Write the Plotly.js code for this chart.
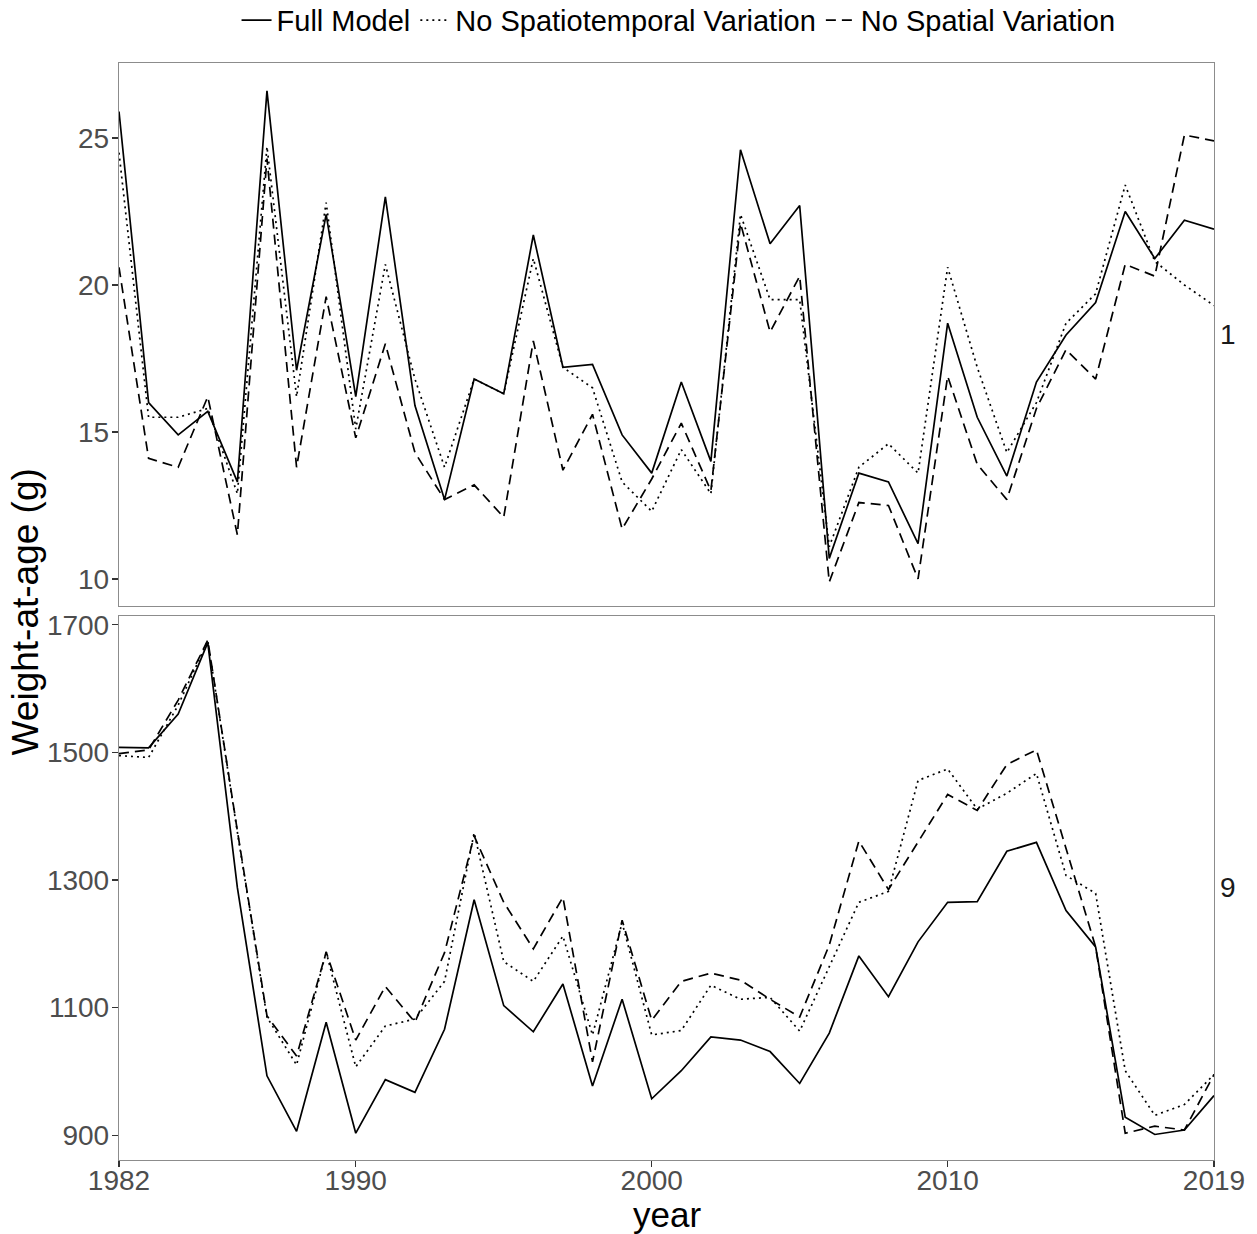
<!DOCTYPE html>
<html>
<head>
<meta charset="utf-8">
<script src="https://cdn.plot.ly/plotly-3.0.1.min.js"></script>
<style>html,body{margin:0;padding:0;background:#fff;}#chart{width:1257px;height:1234px;}</style>
</head>
<body>
<div id="chart"></div>
<script>
const years = [1982,1983,1984,1985,1986,1987,1988,1989,1990,1991,1992,1993,1994,1995,1996,1997,1998,1999,2000,2001,2002,2003,2004,2005,2006,2007,2008,2009,2010,2011,2012,2013,2014,2015,2016,2017,2018,2019];

// Age 1
const full1 = [25.9,16.0,14.9,15.7,13.3,26.6,17.1,22.4,16.2,23.0,15.9,12.7,16.8,16.3,21.7,17.2,17.3,14.9,13.6,16.7,14.0,24.6,21.4,22.7,10.7,13.6,13.3,11.2,18.7,15.5,13.5,16.7,18.3,19.4,22.5,20.9,22.2,21.9];
const noST1 = [24.5,15.5,15.5,15.8,12.9,24.7,16.2,22.8,15.1,20.7,16.8,13.8,16.8,16.3,20.9,17.2,16.5,13.3,12.3,14.4,12.9,22.4,19.5,19.5,11.1,13.8,14.6,13.6,20.6,17.2,14.3,16.0,18.7,19.7,23.4,20.8,20.0,19.3];
const noSp1 = [20.6,14.1,13.8,16.2,11.5,24.3,13.8,19.6,14.8,18.0,14.3,12.7,13.2,12.1,18.1,13.7,15.6,11.7,13.4,15.3,13.0,22.1,18.4,20.3,9.9,12.6,12.5,10.0,16.9,13.9,12.7,15.8,17.8,16.8,20.7,20.3,25.1,24.9];

// Age 9
const full9 = [1508,1507,1560,1672,1288,993,906,1077,903,987,967,1066,1269,1103,1062,1137,977,1113,957,1001,1054,1049,1031,981,1060,1181,1117,1203,1265,1266,1345,1359,1252,1195,928,901,908,962];
const noST9 = [1495,1492,1574,1675,1375,1085,1010,1187,1007,1071,1082,1141,1374,1172,1141,1212,1057,1233,1057,1064,1135,1113,1116,1063,1164,1265,1282,1456,1474,1411,1436,1467,1307,1279,1001,931,948,995];
const noSp9 = [1498,1504,1582,1676,1377,1087,1024,1187,1049,1133,1077,1186,1369,1265,1192,1273,1015,1237,1080,1141,1154,1143,1113,1085,1198,1361,1285,1360,1434,1409,1481,1504,1349,1195,903,914,908,995];

const seriesNames = ['Full Model','No Spatiotemporal Variation','No Spatial Variation'];
const facetLabels = ['1','9'];
const xTicks = [1982,1990,2000,2010,2019];

const dashes = ['solid','2px,4px','10px,6px'];
const lw = 1.7;
function tr(y, i, xa, ya, showleg){
  return {x: years, y: y, type:'scatter', mode:'lines', name: seriesNames[i],
    xaxis: xa, yaxis: ya, showlegend: showleg, legendgroup: 'g'+i,
    line:{color:'#000000', width:lw, dash:dashes[i]}, hoverinfo:'skip'};
}
const data = [
  tr(full1,0,'x2','y',true), tr(noST1,1,'x2','y',true), tr(noSp1,2,'x2','y',true),
  tr(full9,0,'x','y2',false), tr(noST9,1,'x','y2',false), tr(noSp9,2,'x','y2',false)
];

const FF = 'Liberation Sans, Arial, sans-serif';
const tickFont = {family:FF, size:28, color:'#4d4d4d'};
const axBase = {showgrid:false, zeroline:false, showline:true, linecolor:'#8c8c8c', linewidth:1.2, mirror:true,
  ticks:'outside', ticklen:6, tickcolor:'#333333', tickwidth:1.2, tickfont:tickFont, automargin:false};

const layout = {
  width:1257, height:1234,
  margin:{l:119, r:43, t:63, b:74, autoexpand:false},
  paper_bgcolor:'#ffffff', plot_bgcolor:'#ffffff',
  font:{family:FF, color:'#000'},
  showlegend:true,
  legend:{orientation:'h', x:0.511, xanchor:'center', y:1.039, yanchor:'middle',
    font:{family:FF, size:29, color:'#000'}, bgcolor:'rgba(0,0,0,0)', itemwidth:30},
  xaxis: Object.assign({}, axBase, {range:[1982,2019], tickvals:xTicks, ticktext:xTicks.map(String), anchor:'y2', domain:[0,1],
    ticklabelstandoff:-11}),
  xaxis2: Object.assign({}, axBase, {range:[1982,2019], matches:'x', anchor:'y', domain:[0,1], showticklabels:false, ticks:''}),
  yaxis: Object.assign({}, axBase, {range:[9.08,27.55], tickvals:[10,15,20,25], anchor:'x2', domain:[0.505,1], ticklabelstandoff:-3}),
  yaxis2: Object.assign({}, axBase, {range:[861,1714], tickvals:[900,1100,1300,1500,1700], anchor:'x', domain:[0,0.496], ticklabelstandoff:-3}),
  annotations:[
    {text:'year', xref:'paper', yref:'paper', x:0.5, y:-0.0495, xanchor:'center', yanchor:'middle', showarrow:false,
      font:{family:FF, size:35, color:'#000'}},
    {text:'Weight-at-age (g)', xref:'paper', yref:'paper', x:-0.085, y:0.5, xanchor:'center', yanchor:'middle', textangle:-90, showarrow:false,
      font:{family:FF, size:37, color:'#000'}},
    {text:facetLabels[0], xref:'paper', yref:'paper', x:1.0, xshift:14, y:0.7525, xanchor:'center', yanchor:'middle', showarrow:false,
      font:{family:FF, size:28, color:'#1a1a1a'}},
    {text:facetLabels[1], xref:'paper', yref:'paper', x:1.0, xshift:14, y:0.248, xanchor:'center', yanchor:'middle', showarrow:false,
      font:{family:FF, size:28, color:'#1a1a1a'}}
  ]
};

Plotly.newPlot('chart', data, layout, {displayModeBar:false, staticPlot:true});
</script>
</body>
</html>
